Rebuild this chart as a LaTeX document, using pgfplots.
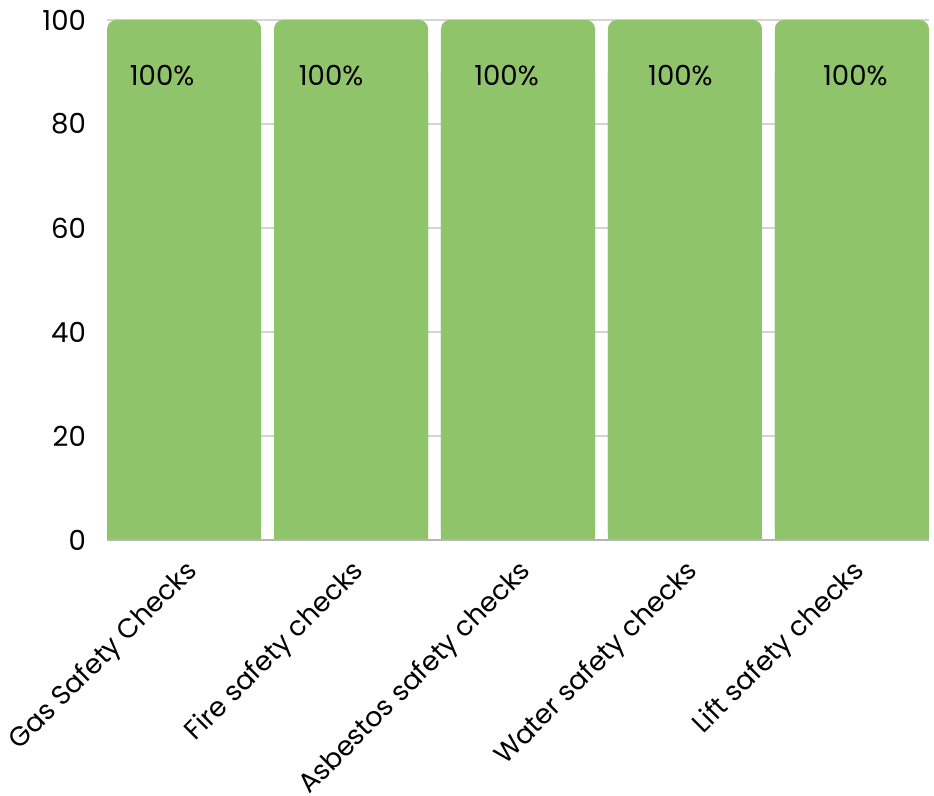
\documentclass[border=0pt]{standalone}
\usepackage{fontspec}
\setmainfont{Poppins}
\usepackage{pgfplots}
\pgfplotsset{compat=1.18}
\definecolor{barg}{RGB}{143,196,107}
\definecolor{gridc}{RGB}{212,212,212}
\newcommand{\lblfont}{\fontsize{13.8}{16}\selectfont}
\begin{document}
\begin{tikzpicture}
\begin{axis}[
  scale only axis, width=411pt, height=260pt,
  xmin=-0.462, xmax=4.462, ymin=0, ymax=100,
  ybar, bar width=0.923, bar shift=0pt,
  axis line style={draw=none},
  tick style={draw=none},
  ytick={0,20,...,100},
  ymajorgrids, major grid style={gridc, line width=0.6pt},
  xtick={0,1,2,3,4},
  xticklabels={Gas Safety Checks, Fire safety checks, Asbestos safety checks, Water safety checks, Lift safety checks},
  x tick label style={rotate=45, anchor=north east, font=\fontsize{13.5}{16}\selectfont, yshift=0.5pt},
  y tick label style={font=\lblfont, xshift=-7pt},
  /pgf/number format/assume math mode=true,
  clip=false,
]
\coordinate (O) at (rel axis cs:0,0);
\addplot[fill=barg, draw=none, rounded corners=4.5pt] coordinates {(0,100) (1,100) (2,100) (3,100) (4,100)};
\addplot[fill=barg, draw=none] coordinates {(0,90) (1,90) (2,90) (3,90) (4,90)};
\draw[gridc!85!black, line width=0.6pt] (rel axis cs:0,0) -- (rel axis cs:1,0);
\node[font=\lblfont, xshift=-11pt] at (axis cs:0,89.4) {100\%};
\node[font=\lblfont, xshift=-10pt] at (axis cs:1,89.4) {100\%};
\node[font=\lblfont, xshift=-5.75pt] at (axis cs:2,89.4) {100\%};
\node[font=\lblfont, xshift=-2.25pt] at (axis cs:3,89.4) {100\%};
\node[font=\lblfont, xshift=1.75pt] at (axis cs:4,89.4) {100\%};
\end{axis}
\pgfresetboundingbox
\path[use as bounding box] (O) ++(-53.5pt,-128pt) rectangle ++(467pt,398pt);
\end{tikzpicture}
\end{document}
